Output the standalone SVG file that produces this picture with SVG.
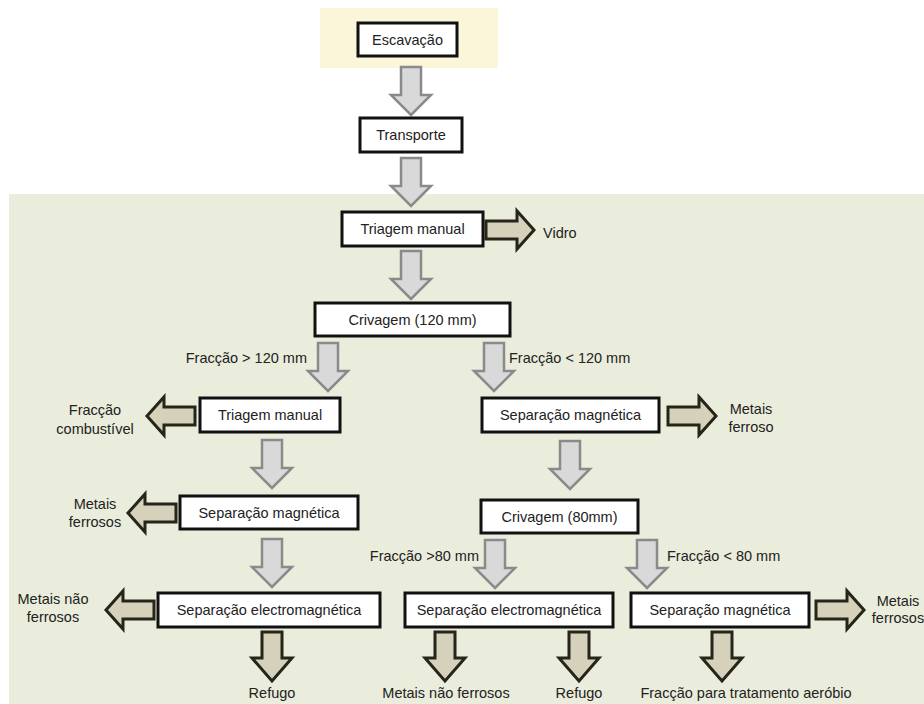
<svg xmlns="http://www.w3.org/2000/svg" xmlns:xlink="http://www.w3.org/1999/xlink" width="924" height="704" viewBox="0 0 924 704">
  <style>
    .box { fill: #ffffff; stroke: #111111; stroke-width: 3; }
    .txt { font-family: "Liberation Sans", Arial, sans-serif; font-size: 14.5px; fill: #222222; }
    .mid { text-anchor: middle; }
    .end { text-anchor: end; }
    .flow { fill: #d9d9d9; stroke: #8a8a8a; stroke-width: 2.5; stroke-linejoin: miter; }
    .out { fill: #d6d1bb; stroke: #25251a; stroke-width: 3; stroke-linejoin: miter; }
  </style>
  <defs>
    <!-- grey process arrow, origin = top centre -->
    <path id="flowDown" d="M-10,0 H10 V28 H20 L0,48 L-20,28 H-10 Z"/>
    <!-- dark output arrows -->
    <path id="outDown" d="M-10,0 H10 V26 H20 L0,49 L-20,26 H-10 Z"/>
    <path id="outRight" d="M0,-9 H31 V-19 L48,0 L31,19 V9 H0 Z"/>
    <path id="outLeft" d="M0,-9 H-31 V-19 L-48,0 L-31,19 V9 H0 Z"/>
  </defs>

  <!-- background panels -->
  <rect x="320" y="8" width="178" height="60" fill="#fbf5d9"/>
  <rect x="9" y="194" width="915" height="510" fill="#eaeddc"/>

  <!-- connectors -->
  <g id="connectors">
    <use xlink:href="#flowDown" class="flow" x="411" y="67"/>
    <use xlink:href="#flowDown" class="flow" x="411" y="158"/>
    <use xlink:href="#flowDown" class="flow" x="411" y="251"/>
    <use xlink:href="#flowDown" class="flow" x="328" y="343"/>
    <use xlink:href="#flowDown" class="flow" x="494" y="343"/>
    <use xlink:href="#flowDown" class="flow" x="272" y="440"/>
    <use xlink:href="#flowDown" class="flow" x="570" y="441"/>
    <use xlink:href="#flowDown" class="flow" x="272" y="539"/>
    <use xlink:href="#flowDown" class="flow" x="495" y="540"/>
    <use xlink:href="#flowDown" class="flow" x="647" y="540"/>

    <use xlink:href="#outRight" class="out" x="486" y="230"/>
    <use xlink:href="#outLeft" class="out" x="195" y="416"/>
    <use xlink:href="#outRight" class="out" x="668" y="416"/>
    <use xlink:href="#outLeft" class="out" x="176" y="513"/>
    <use xlink:href="#outLeft" class="out" x="154" y="610"/>
    <use xlink:href="#outRight" class="out" x="816" y="610"/>

    <use xlink:href="#outDown" class="out" x="272" y="632"/>
    <use xlink:href="#outDown" class="out" x="445" y="632"/>
    <use xlink:href="#outDown" class="out" x="579" y="632"/>
    <use xlink:href="#outDown" class="out" x="722" y="632"/>
  </g>

  <!-- process nodes -->
  <g id="escavacao">
    <rect class="box" x="358" y="23" width="99" height="33"/>
    <text class="txt mid" x="407.5" y="45">Escavação</text>
  </g>
  <g id="transporte">
    <rect class="box" x="360" y="118" width="102" height="34"/>
    <text class="txt mid" x="411" y="140">Transporte</text>
  </g>
  <g id="triagem-1">
    <rect class="box" x="342" y="212" width="141" height="34"/>
    <text class="txt mid" x="412.5" y="234">Triagem manual</text>
  </g>
  <g id="crivagem-120">
    <rect class="box" x="315" y="303" width="195" height="33"/>
    <text class="txt mid" x="412.5" y="325">Crivagem (120 mm)</text>
  </g>
  <g id="triagem-2">
    <rect class="box" x="200" y="398" width="140" height="34"/>
    <text class="txt mid" x="270" y="420">Triagem manual</text>
  </g>
  <g id="sep-mag-1">
    <rect class="box" x="482" y="398" width="177" height="34"/>
    <text class="txt mid" x="570.5" y="420">Separação magnética</text>
  </g>
  <g id="sep-mag-2">
    <rect class="box" x="180" y="496" width="178" height="33"/>
    <text class="txt mid" x="269" y="518">Separação magnética</text>
  </g>
  <g id="crivagem-80">
    <rect class="box" x="481" y="500" width="157" height="33"/>
    <text class="txt mid" x="559.5" y="522">Crivagem (80mm)</text>
  </g>
  <g id="sep-em-1">
    <rect class="box" x="158" y="593" width="222" height="34"/>
    <text class="txt mid" x="269" y="615">Separação electromagnética</text>
  </g>
  <g id="sep-em-2">
    <rect class="box" x="405" y="593" width="208" height="34"/>
    <text class="txt mid" x="509" y="615">Separação electromagnética</text>
  </g>
  <g id="sep-mag-3">
    <rect class="box" x="631" y="593" width="178" height="34"/>
    <text class="txt mid" x="720" y="615">Separação magnética</text>
  </g>

  <!-- outputs and branch labels -->
  <g id="labels">
    <text class="txt" x="543" y="238">Vidro</text>
    <text class="txt end" x="307" y="363">Fracção &gt; 120 mm</text>
    <text class="txt" x="509" y="363">Fracção &lt; 120 mm</text>
    <text class="txt mid" x="95" y="415">Fracção</text>
    <text class="txt mid" x="95" y="434">combustível</text>
    <text class="txt mid" x="751" y="414">Metais</text>
    <text class="txt mid" x="751" y="432">ferroso</text>
    <text class="txt mid" x="95" y="509">Metais</text>
    <text class="txt mid" x="95" y="527">ferrosos</text>
    <text class="txt end" x="479" y="561">Fracção &gt;80 mm</text>
    <text class="txt" x="667" y="561">Fracção &lt; 80 mm</text>
    <text class="txt mid" x="53" y="604">Metais não</text>
    <text class="txt mid" x="53" y="622">ferrosos</text>
    <text class="txt mid" x="898" y="606">Metais</text>
    <text class="txt mid" x="898" y="623">ferrosos</text>
    <text class="txt mid" x="272" y="698">Refugo</text>
    <text class="txt mid" x="446" y="698">Metais não ferrosos</text>
    <text class="txt mid" x="579" y="698">Refugo</text>
    <text class="txt mid" x="746" y="698">Fracção para tratamento aeróbio</text>
  </g>
</svg>
